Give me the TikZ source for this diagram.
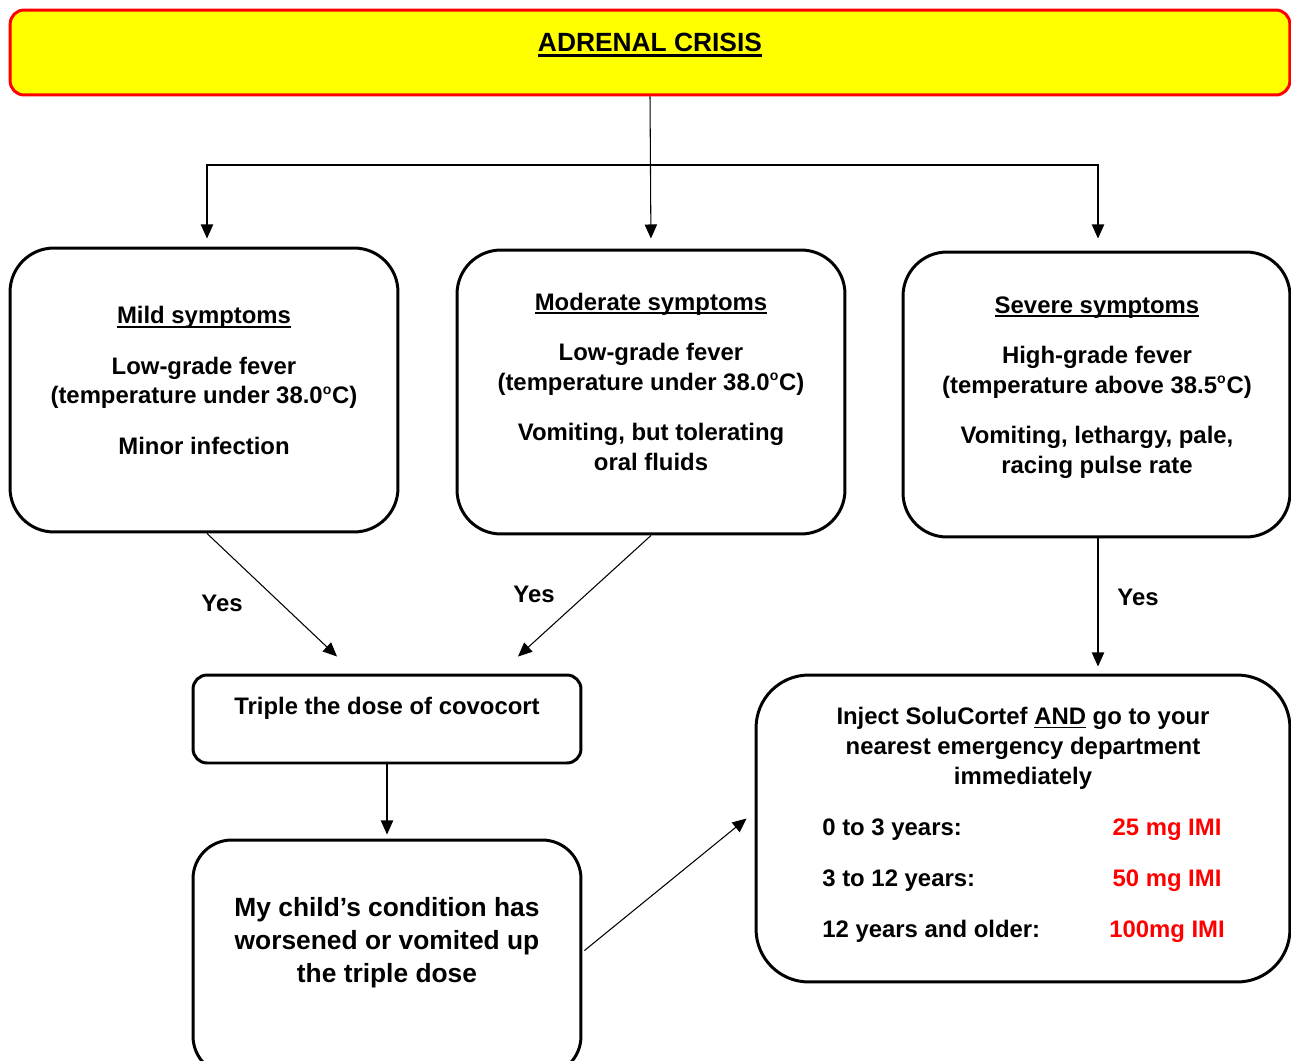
\documentclass[tikz,border=0pt]{standalone}
\usepackage{fontspec}
\setmainfont{Liberation Sans}
\usepackage{tikz}
\usetikzlibrary{arrows.meta}
\definecolor{alertred}{rgb}{1, 0, 0}
\definecolor{alertyellow}{rgb}{1, 1, 0}
% underline at a fixed depth, like a word processor does
\newcommand{\undl}[2][1pt]{\setbox0=\hbox{#2}\rlap{\rule[\dimexpr-1.3pt-#1\relax]{\wd0}{#1}}\box0\relax}

\begin{document}
\begin{tikzpicture}[x=0.02cm, y=-0.02cm,
    box/.style={draw, line width=1.7pt, rectangle, inner sep=0pt},
    txt/.style={align=center, inner sep=0pt, font=\fontsize{13.6}{17}\selectfont\bfseries},
    big/.style={align=center, inner sep=0pt, font=\fontsize{15}{18.7}\selectfont\bfseries},
    conn/.style={line width=0.6pt, -{Triangle[length=8pt, width=7pt]}}]
  \useasboundingbox (0,0) rectangle (1291,1061);

  % title
  \node[box, draw=alertred, fill=alertyellow, rounded corners=8pt,
        minimum width=25.6cm, minimum height=1.7cm] (title) at (650,52.5) {};
  \node[anchor=base, inner sep=0pt, font=\fontsize{15}{18}\selectfont\bfseries] (titletxt) at (650,52) {\undl[1.6pt]{ADRENAL CRISIS}};

  % the 3 symptom boxes
  \node[box, rounded corners=25pt, minimum width=7.76cm, minimum height=5.68cm] (mild) at (204,390) {};
  \node[box, rounded corners=25pt, minimum width=7.76cm, minimum height=5.68cm] (moderate) at (651,392) {};
  \node[box, rounded corners=25pt, minimum width=7.74cm, minimum height=5.7cm] (severe) at (1096.5,394.5) {};

  % (base of a text node = its last line)
  \node[txt, anchor=base] (mildtxt) at (204,454) {\undl{Mild symptoms}\\[11.5pt]
    Low-grade fever\\(temperature under 38.0\textsuperscript{\footnotesize o}C)\\[11.5pt]
    Minor infection};
  \node[txt, anchor=base] (moderatetxt) at (651,470) {\undl{Moderate symptoms}\\[11.5pt]
    Low-grade fever\\(temperature under 38.0\textsuperscript{\footnotesize o}C)\\[11.5pt]
    Vomiting, but tolerating\\oral fluids};
  \node[txt, anchor=base] (severetxt) at (1097,473) {\undl{Severe symptoms}\\[11.5pt]
    High-grade fever\\(temperature above 38.5\textsuperscript{\footnotesize o}C)\\[11.5pt]
    Vomiting, lethargy, pale,\\racing pulse rate};

  % actions
  \node[box, rounded corners=8pt, minimum width=7.76cm, minimum height=1.76cm] (triple) at (387,719) {};
  \node[txt, anchor=base] (tripletxt) at (387,714) {Triple the dose of covocort};

  \node[box, rounded corners=22pt, minimum width=7.76cm, minimum height=4.7cm] (child) at (387,957.5) {};
  \node[big, anchor=base] (childtxt) at (387,982) {My child’s condition has\\worsened or vomited up\\the triple dose};

  \node[box, rounded corners=30pt, minimum width=10.68cm, minimum height=6.14cm] (inject) at (1023,828.5) {};
  \node[txt, anchor=base] (injecttxt) at (1023,784) {Inject SoluCortef \undl{AND} go to your\\
    nearest emergency department\\immediately};
  \foreach \age/\dose [count=\k] in {0 to 3 years:/25 mg IMI, 3 to 12 years:/50 mg IMI, 12 years and older:/100mg IMI}{
    \node[txt, anchor=base west] (age\k) at (822,784+51*\k) {\age};
    \node[txt, anchor=base, text=alertred] (dose\k) at (1167,784+51*\k) {\dose};
  }

  % connectors
  \coordinate (fork) at (651,165);
  \draw[conn, shorten >=0.2cm] (title.south) -- (moderate.north);
  \draw[conn, shorten >=0.16cm] (fork) -| ([shift={(3,0)}]mild.north);
  \draw[conn, shorten >=0.24cm] (fork) -| ([shift={(1.5,0)}]severe.north);
  \draw[conn] ([shift={(3,0)}]mild.south) -- ([shift={(-50,-17)}]triple.north);
  \draw[conn] (moderate.south) -- ([shift={(131,-17)}]triple.north);
  \draw[conn, shorten >=0.14cm] ([shift={(1.5,0)}]severe.south) -- ([shift={(1.5,0)}]severe.south |- inject.north);
  \draw[conn, shorten >=0.08cm] (triple.south) -- (child.north);
  \draw[conn] ([shift={(2,-7)}]child.east) -- ([shift={(-8,-10)}]inject.west);

  \node[txt] (yes1) at (222,603) {Yes};
  \node[txt] (yes2) at (534,594) {Yes};
  \node[txt] (yes3) at (1138,597) {Yes};
\end{tikzpicture}
\end{document}
